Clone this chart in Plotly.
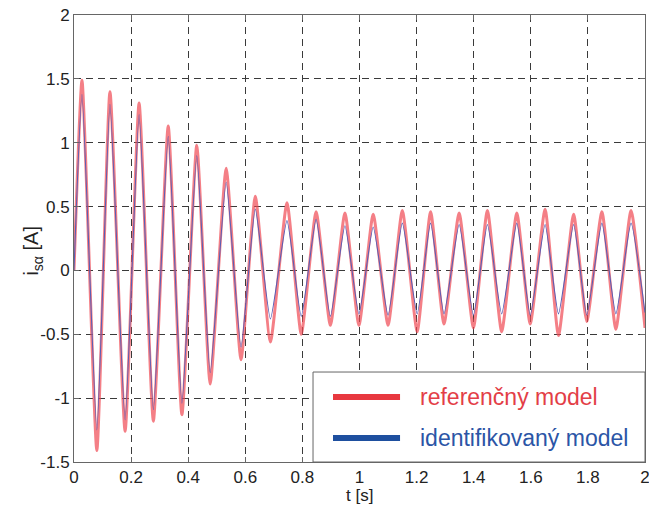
import plotly.graph_objects as go

# extrema of the current waveform (t in s, i in A)
t_pts = [0.0, 0.028, 0.080, 0.126, 0.179, 0.228, 0.278, 0.330, 0.378, 0.430, 0.477,
         0.533, 0.585, 0.635, 0.688, 0.746, 0.796, 0.848, 0.898, 0.949, 0.998,
         1.048, 1.100, 1.150, 1.202, 1.249, 1.296, 1.349, 1.399, 1.448, 1.498,
         1.551, 1.598, 1.650, 1.697, 1.750, 1.796, 1.849, 1.898, 1.951, 2.0]
i_ident = [0.0, 1.38, -1.25, 1.30, -1.17, 1.22, -1.09, 1.05, -1.04, 0.90, -0.80,
           0.69, -0.60, 0.48, -0.38, 0.39, -0.36, 0.40, -0.36, 0.35, -0.34,
           0.34, -0.35, 0.37, -0.34, 0.37, -0.34, 0.36, -0.35, 0.36, -0.34,
           0.37, -0.35, 0.36, -0.34, 0.36, -0.35, 0.37, -0.34, 0.37, -0.33]
i_ref = [0.0, 1.49, -1.41, 1.40, -1.26, 1.31, -1.18, 1.13, -1.13, 0.98, -0.89,
         0.80, -0.70, 0.58, -0.56, 0.53, -0.50, 0.46, -0.43, 0.45, -0.43,
         0.44, -0.43, 0.47, -0.48, 0.46, -0.42, 0.45, -0.45, 0.47, -0.48,
         0.45, -0.42, 0.48, -0.51, 0.44, -0.40, 0.46, -0.46, 0.47, -0.45]

x_ticks = [0, 0.2, 0.4, 0.6, 0.8, 1, 1.2, 1.4, 1.6, 1.8, 2]
x_labels = ["0", "0.2", "0.4", "0.6", "0.8", "1", "1.2", "1.4", "1.6", "1.8", "2"]
y_ticks = [-1.5, -1, -0.5, 0, 0.5, 1, 1.5, 2]
y_labels = ["-1.5", "-1", "-0.5", "0", "0.5", "1", "1.5", "2"]

legend_names = ["referenčný model", "identifikovaný model"]
legend_colors = ["#e8383f", "#1e4f9f"]
text_colors = ["#e33e47", "#2b55a6"]

fig = go.Figure()
fig.add_trace(go.Scatter(x=t_pts, y=i_ref, mode="lines", line_shape="spline",
                         line=dict(color="rgba(240,72,82,0.7)", width=3, smoothing=0.5),
                         showlegend=False))
fig.add_trace(go.Scatter(x=t_pts, y=i_ident, mode="lines", line_shape="spline",
                         line=dict(color="#5a5eb4", width=1.1, smoothing=0.5),
                         showlegend=False))

font = "Liberation Sans, Arial, sans-serif"
axis_common = dict(showgrid=True, gridcolor="#3a3a3a", griddash="7px,5px", gridwidth=1,
                   zeroline=False, showline=True, linecolor="#666", linewidth=1,
                   mirror="ticks", ticks="inside", ticklen=5, tickcolor="#666",
                   ticklabeloverflow="allow", automargin=False,
                   tickfont=dict(family=font, size=17, color="#222"))

fig.update_layout(
    width=649, height=506,
    margin=dict(l=74, r=4, t=15, b=44),
    paper_bgcolor="white", plot_bgcolor="white",
    showlegend=False,
    xaxis=dict(range=[0, 2], tickvals=x_ticks, ticktext=x_labels, **axis_common),
    yaxis=dict(range=[-1.5, 2], tickvals=y_ticks, ticktext=y_labels, **axis_common),
)

# hand-drawn legend box, MATLAB style
fig.add_shape(type="rect", xref="paper", yref="paper", x0=0.4186, x1=1.0, y0=0.0, y1=0.2013,
              line=dict(color="#666", width=1), fillcolor="white", layer="above")
for k, yy in enumerate([0.1454, 0.0537]):
    fig.add_shape(type="line", xref="paper", yref="paper", x0=0.4536, x1=0.571, y0=yy, y1=yy,
                  line=dict(color=legend_colors[k], width=6), layer="above")
    fig.add_annotation(xref="paper", yref="paper", x=0.6025, y=yy, xanchor="left", yanchor="middle",
                       text=legend_names[k], showarrow=False,
                       font=dict(family=font, size=23, color=text_colors[k]))

fig.add_annotation(xref="paper", yref="paper", x=0.5, y=-0.076, yanchor="middle",
                   text="t [s]", showarrow=False, font=dict(family=font, size=17, color="#222"))
fig.add_annotation(xref="paper", yref="paper", x=-0.0981, y=0.474, textangle=-90,
                   text="i<sub>sα</sub> [A]", showarrow=False,
                   font=dict(family=font, size=20, color="#222"))

fig.write_html("out.html", config={"displayModeBar": False},
               post_script="document.body.style.margin='0';")
